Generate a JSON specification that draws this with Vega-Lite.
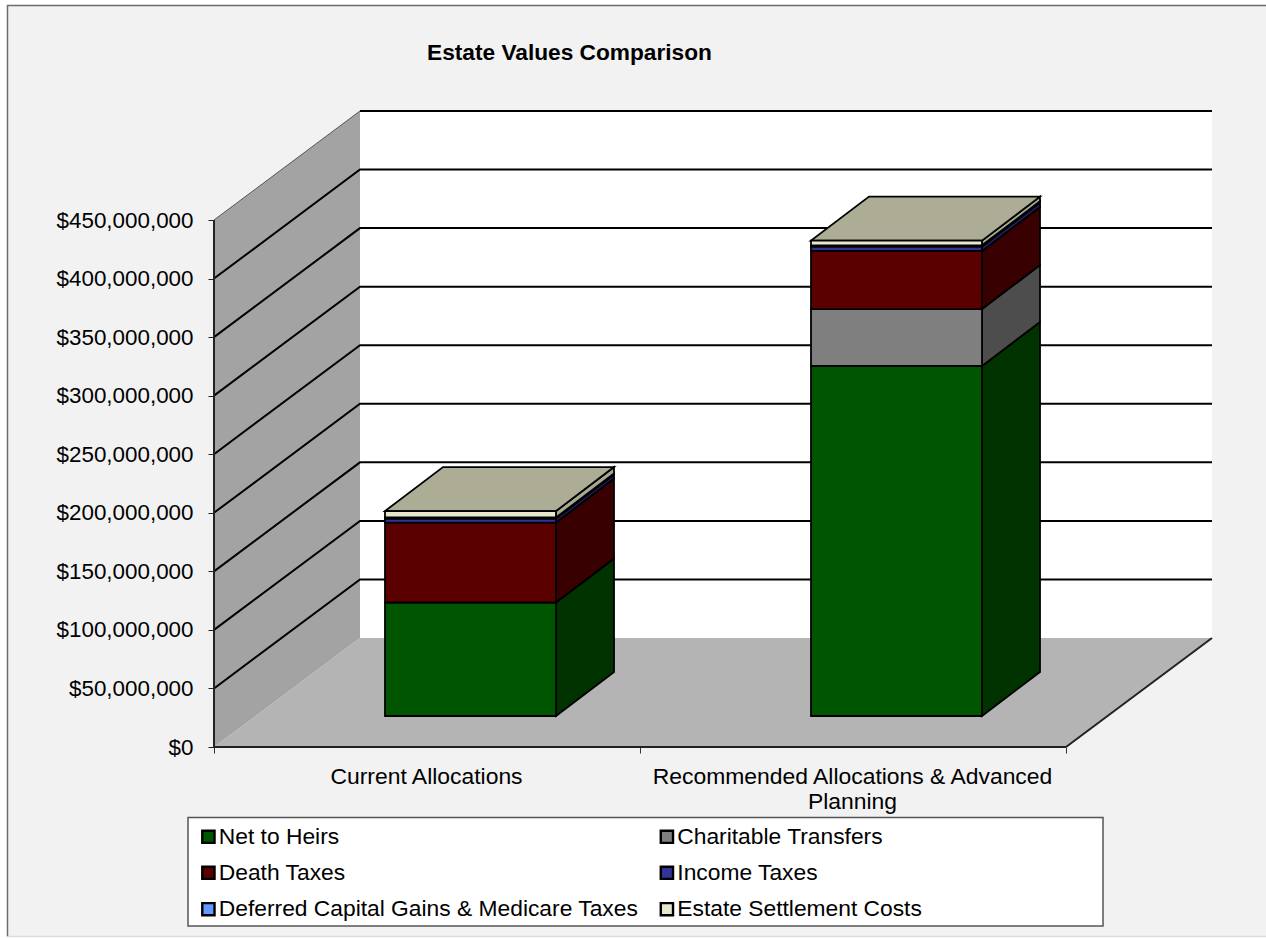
{
  "$schema": "https://vega.github.io/schema/vega-lite/v6.json",
  "width": 998,
  "height": 637,
  "autosize": {"type": "none"},
  "padding": {"left": 214, "top": 110, "right": 54, "bottom": 191},
  "background": "#ffffff",
  "title": {
    "text": "Estate Values Comparison",
    "anchor": "start",
    "frame": "group",
    "dx": 213,
    "offset": -62,
    "font": "Liberation Sans",
    "fontSize": 22.7,
    "fontWeight": "bold",
    "color": "#000000"
  },
  "config": {
    "view": {"stroke": null},
    "font": "Liberation Sans"
  },
  "datasets": {
    "surfaces": [
      {"surface": "Back wall", "x": 146, "low": 93080000, "high": 543080000},
      {"surface": "Back wall", "x": 998, "low": 93080000, "high": 543080000},
      {"surface": "Side wall", "x": 0, "low": 0, "high": 450000000},
      {"surface": "Side wall", "x": 146, "low": 93080000, "high": 543080000},
      {"surface": "Floor", "x": 0, "low": 0, "high": 0},
      {"surface": "Floor", "x": 146, "low": 0, "high": 93080000},
      {"surface": "Floor", "x": 852, "low": 0, "high": 93080000},
      {"surface": "Floor", "x": 998, "low": 93080000, "high": 93080000}
    ],
    "gridlines": [
      {"tick": 50, "x": 0, "y": 50000000}, {"tick": 50, "x": 146, "y": 143080000}, {"tick": 50, "x": 998, "y": 143080000},
      {"tick": 100, "x": 0, "y": 100000000}, {"tick": 100, "x": 146, "y": 193080000}, {"tick": 100, "x": 998, "y": 193080000},
      {"tick": 150, "x": 0, "y": 150000000}, {"tick": 150, "x": 146, "y": 243080000}, {"tick": 150, "x": 998, "y": 243080000},
      {"tick": 200, "x": 0, "y": 200000000}, {"tick": 200, "x": 146, "y": 293080000}, {"tick": 200, "x": 998, "y": 293080000},
      {"tick": 250, "x": 0, "y": 250000000}, {"tick": 250, "x": 146, "y": 343080000}, {"tick": 250, "x": 998, "y": 343080000},
      {"tick": 300, "x": 0, "y": 300000000}, {"tick": 300, "x": 146, "y": 393080000}, {"tick": 300, "x": 998, "y": 393080000},
      {"tick": 350, "x": 0, "y": 350000000}, {"tick": 350, "x": 146, "y": 443080000}, {"tick": 350, "x": 998, "y": 443080000},
      {"tick": 400, "x": 0, "y": 400000000}, {"tick": 400, "x": 146, "y": 493080000}, {"tick": 400, "x": 998, "y": 493080000},
      {"tick": 450, "x": 146, "y": 543080000}, {"tick": 450, "x": 998, "y": 543080000}
    ],
    "heavyEdges": [
      {"edge": "wall front", "x": 0, "y": 0}, {"edge": "wall front", "x": 0, "y": 450000000},
      {"edge": "floor right", "x": 852, "y": 0}, {"edge": "floor right", "x": 998, "y": 93080000},
      {"edge": "floor front", "x": 0, "y": 0}, {"edge": "floor front", "x": 852, "y": 0}
    ],
    "thinEdges": [
      {"edge": "wall top", "x": 0, "y": 450000000}, {"edge": "wall top", "x": 146, "y": 543080000}
    ],
    "bars": [
      {"allocation": "Current Allocations", "series": "Net to Heirs", "left": 171, "right": 342, "low": 0, "high": 96900000},
      {"allocation": "Current Allocations", "series": "Death Taxes", "left": 171, "right": 342, "low": 96900000, "high": 165200000},
      {"allocation": "Current Allocations", "series": "Income Taxes", "left": 171, "right": 342, "low": 165200000, "high": 168600000},
      {"allocation": "Current Allocations", "series": "Deferred Capital Gains & Medicare Taxes", "left": 171, "right": 342, "low": 168600000, "high": 169500000},
      {"allocation": "Current Allocations", "series": "Estate Settlement Costs", "left": 171, "right": 342, "low": 169500000, "high": 175000000},
      {"allocation": "Recommended Allocations & Advanced Planning", "series": "Net to Heirs", "left": 597, "right": 768, "low": 0, "high": 298900000},
      {"allocation": "Recommended Allocations & Advanced Planning", "series": "Charitable Transfers", "left": 597, "right": 768, "low": 298900000, "high": 347500000},
      {"allocation": "Recommended Allocations & Advanced Planning", "series": "Death Taxes", "left": 597, "right": 768, "low": 347500000, "high": 397100000},
      {"allocation": "Recommended Allocations & Advanced Planning", "series": "Income Taxes", "left": 597, "right": 768, "low": 397100000, "high": 400900000},
      {"allocation": "Recommended Allocations & Advanced Planning", "series": "Deferred Capital Gains & Medicare Taxes", "left": 597, "right": 768, "low": 400900000, "high": 401900000},
      {"allocation": "Recommended Allocations & Advanced Planning", "series": "Estate Settlement Costs", "left": 597, "right": 768, "low": 401900000, "high": 405900000}
    ],
    "depthFaces": [
      {"face": "c-net", "shade": "Net to Heirs", "x": 342, "low": 0, "high": 96900000},
      {"face": "c-net", "shade": "Net to Heirs", "x": 400, "low": 37570000, "high": 134470000},
      {"face": "c-death", "shade": "Death Taxes", "x": 342, "low": 96900000, "high": 165200000},
      {"face": "c-death", "shade": "Death Taxes", "x": 400, "low": 134470000, "high": 202770000},
      {"face": "c-income", "shade": "Income Taxes", "x": 342, "low": 165200000, "high": 168600000},
      {"face": "c-income", "shade": "Income Taxes", "x": 400, "low": 202770000, "high": 206170000},
      {"face": "c-deferred", "shade": "Deferred Capital Gains & Medicare Taxes", "x": 342, "low": 168600000, "high": 169500000},
      {"face": "c-deferred", "shade": "Deferred Capital Gains & Medicare Taxes", "x": 400, "low": 206170000, "high": 207070000},
      {"face": "c-estate", "shade": "Estate Settlement Costs", "x": 342, "low": 169500000, "high": 175000000},
      {"face": "c-estate", "shade": "Estate Settlement Costs", "x": 400, "low": 207070000, "high": 212570000},
      {"face": "c-top", "shade": "Top", "x": 171, "low": 175000000, "high": 175000000},
      {"face": "c-top", "shade": "Top", "x": 229, "low": 175000000, "high": 212570000},
      {"face": "c-top", "shade": "Top", "x": 342, "low": 175000000, "high": 212570000},
      {"face": "c-top", "shade": "Top", "x": 400, "low": 212570000, "high": 212570000},
      {"face": "r-net", "shade": "Net to Heirs", "x": 768, "low": 0, "high": 298900000},
      {"face": "r-net", "shade": "Net to Heirs", "x": 826, "low": 37570000, "high": 336470000},
      {"face": "r-charitable", "shade": "Charitable Transfers", "x": 768, "low": 298900000, "high": 347500000},
      {"face": "r-charitable", "shade": "Charitable Transfers", "x": 826, "low": 336470000, "high": 385070000},
      {"face": "r-death", "shade": "Death Taxes", "x": 768, "low": 347500000, "high": 397100000},
      {"face": "r-death", "shade": "Death Taxes", "x": 826, "low": 385070000, "high": 434670000},
      {"face": "r-income", "shade": "Income Taxes", "x": 768, "low": 397100000, "high": 400900000},
      {"face": "r-income", "shade": "Income Taxes", "x": 826, "low": 434670000, "high": 438470000},
      {"face": "r-deferred", "shade": "Deferred Capital Gains & Medicare Taxes", "x": 768, "low": 400900000, "high": 401900000},
      {"face": "r-deferred", "shade": "Deferred Capital Gains & Medicare Taxes", "x": 826, "low": 438470000, "high": 439470000},
      {"face": "r-estate", "shade": "Estate Settlement Costs", "x": 768, "low": 401900000, "high": 405900000},
      {"face": "r-estate", "shade": "Estate Settlement Costs", "x": 826, "low": 439470000, "high": 443470000},
      {"face": "r-top", "shade": "Top", "x": 597, "low": 405900000, "high": 405900000},
      {"face": "r-top", "shade": "Top", "x": 655, "low": 405900000, "high": 443470000},
      {"face": "r-top", "shade": "Top", "x": 768, "low": 405900000, "high": 443470000},
      {"face": "r-top", "shade": "Top", "x": 826, "low": 443470000, "high": 443470000}
    ]
  },
  "resolve": {"scale": {"fill": "independent"}},
  "layer": [
    {
      "description": "Chart area panel",
      "data": {"values": [{"left": -206.5, "right": 1060, "top": 633150000, "bottom": -161800000}]},
      "mark": {"type": "rect", "fill": "#f2f2f2"},
      "encoding": {
        "x": {
          "field": "left",
          "type": "quantitative",
          "scale": {"domain": [0, 998], "nice": false, "zero": false},
          "axis": {
            "values": [0, 212, 426, 638, 852],
            "title": null,
            "domain": false,
            "grid": false,
            "zindex": 1,
            "tickColor": "#333333",
            "tickSize": 6,
            "tickOpacity": {"condition": {"test": "datum.value === 212 || datum.value === 638", "value": 0}, "value": 1},
            "labelExpr": "datum.value === 212 ? 'Current Allocations' : datum.value === 638 ? ['Recommended Allocations & Advanced', 'Planning'] : ''",
            "labelFont": "Liberation Sans",
            "labelFontSize": 22.9,
            "labelColor": "#000000",
            "labelLimit": 600,
            "labelPadding": 12,
            "labelLineHeight": 25,
            "labelOverlap": false,
            "labelBound": false,
            "labelFlush": false
          }
        },
        "x2": {"field": "right"},
        "y": {
          "field": "top",
          "type": "quantitative",
          "scale": {"domain": [0, 543930000], "nice": false, "zero": false},
          "axis": {
            "values": [0, 50000000, 100000000, 150000000, 200000000, 250000000, 300000000, 350000000, 400000000, 450000000],
            "format": "$,.0f",
            "title": null,
            "domain": false,
            "grid": false,
            "zindex": 1,
            "tickColor": "#222222",
            "tickSize": 6,
            "labelFont": "Liberation Sans",
            "labelFontSize": 22.4,
            "labelColor": "#000000",
            "labelPadding": 15
          }
        },
        "y2": {"field": "bottom"}
      }
    },
    {
      "description": "Left and top border of the chart area",
      "data": {"values": [
        {"step": 1, "x": -206.5, "y": -161800000},
        {"step": 2, "x": -206.5, "y": 633150000},
        {"step": 3, "x": 1060, "y": 633150000}
      ]},
      "mark": {"type": "line", "stroke": "#6b6b6b", "strokeWidth": 1.5},
      "encoding": {
        "x": {"field": "x", "type": "quantitative"},
        "y": {"field": "y", "type": "quantitative"},
        "order": {"field": "step"}
      }
    },
    {
      "description": "Bottom border of the chart area",
      "data": {"values": [
        {"x": -206.5, "y": -161800000},
        {"x": 1060, "y": -161800000}
      ]},
      "mark": {"type": "line", "stroke": "#dcdcdc", "strokeWidth": 1.5},
      "encoding": {
        "x": {"field": "x", "type": "quantitative"},
        "y": {"field": "y", "type": "quantitative"}
      }
    },
    {
      "description": "Legend panel",
      "data": {"values": [{"left": -26, "right": 889, "top": -60200000, "bottom": -152850000}]},
      "mark": {"type": "rect", "fill": "#ffffff", "stroke": "#555555", "strokeWidth": 1.5},
      "encoding": {
        "x": {"field": "left", "type": "quantitative"},
        "x2": {"field": "right"},
        "y": {"field": "top", "type": "quantitative"},
        "y2": {"field": "bottom"}
      }
    },
    {
      "description": "Back wall, side wall and floor",
      "data": {"name": "surfaces"},
      "mark": {"type": "area"},
      "encoding": {
        "x": {"field": "x", "type": "quantitative"},
        "y": {"field": "low", "type": "quantitative"},
        "y2": {"field": "high"},
        "detail": {"field": "surface"},
        "fill": {
          "field": "surface",
          "type": "nominal",
          "legend": null,
          "scale": {"domain": ["Back wall", "Side wall", "Floor"], "range": ["#ffffff", "#a3a3a3", "#b4b4b4"]}
        }
      }
    },
    {
      "description": "Gridlines wrapping the side and back walls",
      "data": {"name": "gridlines"},
      "mark": {"type": "line", "stroke": "#000000", "strokeWidth": 2},
      "encoding": {
        "x": {"field": "x", "type": "quantitative"},
        "y": {"field": "y", "type": "quantitative"},
        "detail": {"field": "tick"}
      }
    },
    {
      "description": "Floor and wall outline",
      "data": {"name": "heavyEdges"},
      "mark": {"type": "line", "stroke": "#222222", "strokeWidth": 2},
      "encoding": {
        "x": {"field": "x", "type": "quantitative"},
        "y": {"field": "y", "type": "quantitative"},
        "detail": {"field": "edge"}
      }
    },
    {
      "description": "Upper edge of the side wall",
      "data": {"name": "thinEdges"},
      "mark": {"type": "line", "stroke": "#555555", "strokeWidth": 1},
      "encoding": {
        "x": {"field": "x", "type": "quantitative"},
        "y": {"field": "y", "type": "quantitative"},
        "detail": {"field": "edge"}
      }
    },
    {
      "description": "Receding side and top faces of the stacks",
      "data": {"name": "depthFaces"},
      "mark": {"type": "area", "stroke": "#000000", "strokeWidth": 1.8, "yOffset": -31, "y2Offset": -31},
      "encoding": {
        "x": {"field": "x", "type": "quantitative"},
        "y": {"field": "low", "type": "quantitative"},
        "y2": {"field": "high"},
        "detail": {"field": "face"},
        "fill": {
          "field": "shade",
          "type": "nominal",
          "legend": null,
          "scale": {
            "domain": ["Net to Heirs", "Charitable Transfers", "Death Taxes", "Income Taxes", "Deferred Capital Gains & Medicare Taxes", "Estate Settlement Costs", "Top"],
            "range": ["#003300", "#4d4d4d", "#380000", "#1f1f66", "#3f5f9f", "#a8a890", "#adad96"]
          }
        }
      }
    },
    {
      "description": "Front faces of the stacked segments",
      "data": {"name": "bars"},
      "mark": {"type": "rect", "stroke": "#000000", "strokeWidth": 1.8, "yOffset": -31, "y2Offset": -31},
      "encoding": {
        "x": {"field": "left", "type": "quantitative"},
        "x2": {"field": "right"},
        "y": {"field": "low", "type": "quantitative"},
        "y2": {"field": "high"},
        "fill": {
          "field": "series",
          "type": "nominal",
          "scale": {
            "domain": ["Net to Heirs", "Charitable Transfers", "Death Taxes", "Income Taxes", "Deferred Capital Gains & Medicare Taxes", "Estate Settlement Costs"],
            "range": ["#005500", "#7f7f7f", "#5a0000", "#333399", "#6699ff", "#e8e8cc"]
          },
          "legend": {
            "title": null,
            "orient": "none",
            "legendX": -17,
            "legendY": 715,
            "direction": "horizontal",
            "columns": 2,
            "padding": 0,
            "symbolType": "square",
            "symbolSize": 150,
            "symbolStrokeColor": "#000000",
            "symbolStrokeWidth": 2.4,
            "labelFont": "Liberation Sans",
            "labelFontSize": 22.8,
            "labelColor": "#000000",
            "labelLimit": 600,
            "labelOffset": -1,
            "rowPadding": 12.4,
            "columnPadding": 16.5,
            "gridAlign": "each"
          }
        }
      }
    }
  ]
}
